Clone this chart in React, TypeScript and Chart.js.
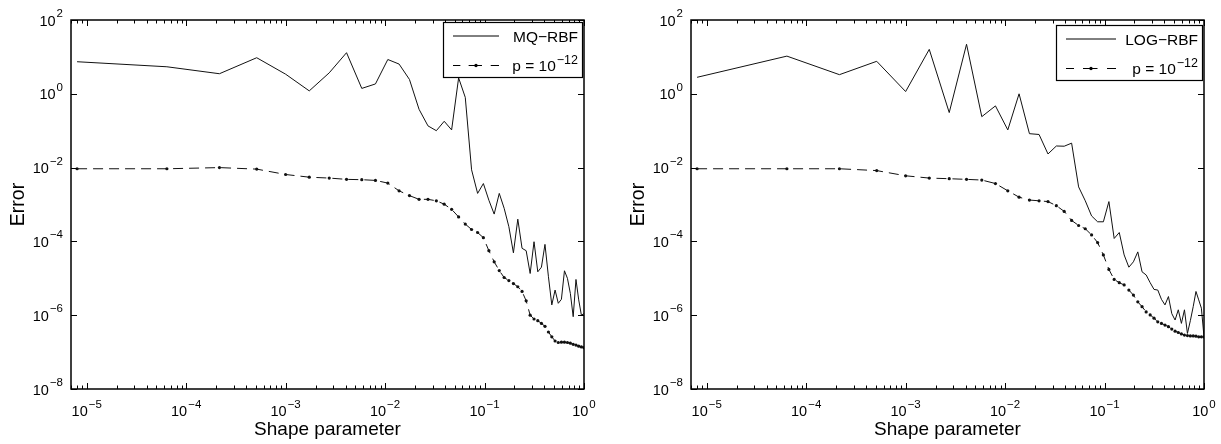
import React, { useEffect, useRef } from "react";
import { Chart, registerables } from "chart.js";

Chart.register(...registerables);

const FONT = '"Liberation Sans", Arial, Helvetica, sans-serif';

// Shape parameter values (shared x positions of both panels)
const shapeParameters = [
  8e-6, 6.4e-5, 2.16e-4, 5.12e-4, 1e-3, 1.728e-3, 2.744e-3, 4.096e-3, 5.832e-3, 8e-3,
  0.010648, 0.013824, 0.017576, 0.021952, 0.027, 0.032768, 0.039304, 0.046656, 0.054872, 0.064,
  0.074088, 0.085184, 0.097336, 0.110592, 0.125, 0.140608, 0.157464, 0.175616, 0.195112, 0.216,
  0.238328, 0.262144, 0.287496, 0.314432, 0.343, 0.373248, 0.405224, 0.438976, 0.474552, 0.512,
  0.551368, 0.592704, 0.636056, 0.681472, 0.729, 0.778688, 0.830584, 0.884736, 0.941192, 1.0,
];

// Left panel: MQ-RBF
const mqErrors = [
  7.4, 5.4, 3.5, 9.5, 3.4, 1.2, 3.7, 13, 1.4, 1.85,
  8.5, 6.4, 2.45, 0.38, 0.135, 0.1, 0.18, 0.105, 2.7, 0.8,
  8.7e-3, 2.0e-3, 3.7e-3, 1.3e-3, 5.5e-4, 2.0e-3, 7.9e-4, 2.5e-4, 4.9e-5, 4.0e-4,
  6.5e-5, 5.6e-5, 1.35e-5, 9.8e-5, 1.5e-5, 2.0e-5, 8.3e-5, 1.1e-5, 1.9e-6, 4.8e-6,
  2.1e-6, 2.7e-6, 1.6e-5, 1.0e-5, 3.9e-6, 9.1e-7, 9.3e-6, 2.6e-6, 1.0e-6, 1.1e-6,
];
const mqP12Errors = [
  9.3e-3, 9.3e-3, 1.0e-2, 9.1e-3, 6.5e-3, 5.5e-3, 5.2e-3, 4.8e-3, 4.7e-3, 4.5e-3,
  3.8e-3, 2.35e-3, 1.74e-3, 1.38e-3, 1.38e-3, 1.26e-3, 1.02e-3, 7.4e-4, 4.6e-4, 2.95e-4,
  2.1e-4, 1.74e-4, 1.26e-4, 5.6e-5, 2.8e-5, 1.62e-5, 1.05e-5, 8.7e-6, 7.2e-6, 5.9e-6,
  4.4e-6, 2.45e-6, 1.0e-6, 7.9e-7, 7.1e-7, 6.0e-7, 5.0e-7, 3.5e-7, 2.6e-7, 2.0e-7,
  1.82e-7, 1.86e-7, 1.86e-7, 1.82e-7, 1.74e-7, 1.62e-7, 1.55e-7, 1.45e-7, 1.38e-7, 1.32e-7,
];

// Right panel: LOG-RBF
const logErrors = [
  2.8, 10.5, 3.3, 7.6, 1.15, 16, 0.31, 22, 0.24, 0.47,
  0.105, 1.0, 0.083, 0.079, 0.0234, 0.0385, 0.038, 0.046, 3.0e-3, 1.26e-3,
  4.9e-4, 3.4e-4, 3.4e-4, 1.2e-3, 1.2e-4, 1.74e-4, 4.3e-5, 2.0e-5, 2.8e-5, 5.2e-5,
  1.5e-5, 1.23e-5, 7.6e-6, 5.0e-6, 4.8e-6, 2.7e-6, 1.9e-6, 3.2e-6, 1.1e-6, 7.4e-7,
  1.4e-6, 6.0e-7, 1.4e-6, 3.2e-7, 7.1e-7, 1.7e-6, 4.4e-6, 2.6e-6, 1.55e-6, 2.6e-7,
];
const logP12Errors = [
  9.3e-3, 9.3e-3, 9.3e-3, 8.3e-3, 6.0e-3, 5.2e-3, 5.0e-3, 4.8e-3, 4.6e-3, 3.7e-3,
  2.35e-3, 1.58e-3, 1.32e-3, 1.26e-3, 1.2e-3, 9.3e-4, 6.5e-4, 3.7e-4, 2.7e-4, 2.2e-4,
  1.5e-4, 9.3e-5, 4.3e-5, 1.74e-5, 9.3e-6, 7.6e-6, 6.6e-6, 4.8e-6, 3.5e-6, 2.3e-6,
  1.7e-6, 1.23e-6, 1.02e-6, 8.3e-7, 6.6e-7, 6.0e-7, 5.4e-7, 4.9e-7, 4.2e-7, 3.7e-7,
  3.4e-7, 3.1e-7, 2.9e-7, 2.8e-7, 2.75e-7, 2.75e-7, 2.7e-7, 2.6e-7, 2.6e-7, 2.57e-7,
];

const xTickValues = [1e-5, 1e-4, 1e-3, 1e-2, 1e-1, 1];
const xTickLabels = ["10^\u22125", "10^\u22124", "10^\u22123", "10^\u22122", "10^\u22121", "10^0"];
const yTickValues = [1e-8, 1e-6, 1e-4, 1e-2, 1, 1e2];
const yTickLabels = ["10^\u22128", "10^\u22126", "10^\u22124", "10^\u22122", "10^0", "10^2"];

const xAxisTitle = "Shape parameter";
const yAxisTitle = "Error";

function drawPower(
  ctx: CanvasRenderingContext2D,
  text: string,
  x: number,
  y: number,
  align: "center" | "right",
  baseSize: number,
  expSize: number,
  rise: number
) {
  const [base, exp] = text.split("^");
  ctx.font = `${baseSize}px ${FONT}`;
  const wb = ctx.measureText(base).width;
  ctx.font = `${expSize}px ${FONT}`;
  const we = exp ? ctx.measureText(exp).width + 1 : 0;
  const total = wb + we;
  const x0 = align === "center" ? x - total / 2 : x - total;
  ctx.textAlign = "left";
  ctx.textBaseline = "alphabetic";
  ctx.font = `${baseSize}px ${FONT}`;
  ctx.fillText(base, x0, y);
  if (exp) {
    ctx.font = `${expSize}px ${FONT}`;
    ctx.fillText(exp, x0 + wb + 1, y - rise);
  }
}

const matlabAxesPlugin = {
  id: "matlabAxes",
  afterDraw(chart: any, _args: any, opts: any) {
    const { ctx, chartArea: a, scales } = chart;
    const xs = scales.x;
    const ys = scales.y;
    ctx.save();
    ctx.strokeStyle = "#000";
    ctx.fillStyle = "#000";
    ctx.lineWidth = 1;
    ctx.setLineDash([]);
    ctx.beginPath();
    for (let d = -6; d <= 0; d++) {
      for (let m = 1; m <= 9; m++) {
        const v = m * Math.pow(10, d);
        if (v < xs.min || v > xs.max) continue;
        const px = Math.round(xs.getPixelForValue(v)) + 0.5;
        const len = m === 1 ? 6 : 3.5;
        ctx.moveTo(px, a.bottom);
        ctx.lineTo(px, a.bottom - len);
        ctx.moveTo(px, a.top);
        ctx.lineTo(px, a.top + len);
      }
    }
    for (const v of yTickValues) {
      const py = Math.round(ys.getPixelForValue(v)) + 0.5;
      ctx.moveTo(a.left, py);
      ctx.lineTo(a.left + 6, py);
      ctx.moveTo(a.right, py);
      ctx.lineTo(a.right - 6, py);
    }
    ctx.stroke();

    ctx.lineWidth = 1.5;
    ctx.strokeRect(a.left, a.top, a.right - a.left, a.bottom - a.top);

    // tick labels
    xTickValues.forEach((v, i) => {
      const px = xs.getPixelForValue(v);
      drawPower(ctx, xTickLabels[i], px, a.bottom + 27, "center", 14.5, 11.5, 8);
    });
    yTickValues.forEach((v, i) => {
      const py = ys.getPixelForValue(v);
      drawPower(ctx, yTickLabels[i], a.left - 8, py + 5.5, "right", 14.5, 11.5, 8.5);
    });

    // legend
    const ds = chart.data.datasets;
    const bw = opts.legendWidth;
    const bh = 55;
    const bx = a.right - 2 - bw;
    const by = a.top + opts.legendTop;
    ctx.fillStyle = "#fff";
    ctx.fillRect(bx, by, bw, bh);
    ctx.lineWidth = 1.2;
    ctx.strokeStyle = "#000";
    ctx.strokeRect(bx + 0.5, by + 0.5, bw, bh);
    const rows = [by + 14, by + 43.5];
    const sx = bx + 10;
    const L = opts.sampleLength;
    ctx.lineWidth = 1;
    ctx.beginPath();
    ctx.moveTo(sx, rows[0]);
    ctx.lineTo(sx + L, rows[0]);
    ctx.stroke();
    ctx.beginPath();
    const segs = [
      [0, 0.16],
      [0.34, 0.63],
      [0.82, 1],
    ];
    for (const [s, e] of segs) {
      ctx.moveTo(sx + s * L, rows[1]);
      ctx.lineTo(sx + e * L, rows[1]);
    }
    ctx.stroke();
    ctx.fillStyle = "#000";
    ctx.beginPath();
    ctx.arc(sx + 0.5 * L, rows[1], 1.7, 0, Math.PI * 2);
    ctx.fill();
    const tx = bx + bw - 4;
    drawPower(ctx, ds[0].label, tx, rows[0] + 5.5, "right", 15.5, 12, 7);
    drawPower(ctx, ds[1].label, tx, rows[1] + 5.5, "right", 15.5, 12.5, 7);
    ctx.restore();
  },
};

type PanelProps = {
  left: number;
  width: number;
  errors: number[];
  p12Errors: number[];
  solidLabel: string;
  padLeft: number;
  padRight: number;
  legendTop: number;
  legendWidth: number;
  sampleLength: number;
};

function ErrorPanel(props: PanelProps) {
  const ref = useRef<HTMLCanvasElement | null>(null);
  useEffect(() => {
    if (!ref.current) return;
    const chart = new Chart(ref.current, {
      type: "line",
      data: {
        datasets: [
          {
            label: props.solidLabel,
            data: shapeParameters.map((x, i) => ({ x, y: props.errors[i] })),
            borderColor: "#111",
            borderWidth: 1,
            pointRadius: 0,
            tension: 0,
          },
          {
            label: "p = 10^\u221212",
            data: shapeParameters.map((x, i) => ({ x, y: props.p12Errors[i] })),
            borderColor: "#111",
            borderWidth: 1,
            borderDash: [10, 6],
            pointRadius: 1.6,
            pointBorderWidth: 0,
            pointBackgroundColor: "#111",
            tension: 0,
          },
        ],
      },
      options: {
        animation: false,
        responsive: false,
        maintainAspectRatio: false,
        events: [],
        layout: { padding: { left: props.padLeft, right: props.padRight, top: 20, bottom: 0 } },
        plugins: {
          legend: { display: false },
          tooltip: { enabled: false },
          matlabAxes: { legendTop: props.legendTop, legendWidth: props.legendWidth, sampleLength: props.sampleLength },
        } as any,
        scales: {
          x: {
            type: "logarithmic",
            min: 6.95e-6,
            max: 1,
            grid: { display: false },
            border: { display: false },
            ticks: { display: false },
            title: {
              display: true,
              text: xAxisTitle,
              color: "#000",
              font: { family: FONT, size: 19 },
              padding: { top: 0, bottom: 3 },
            },
            afterBuildTicks: (s: any) => {
              s.ticks = xTickValues.map((v) => ({ value: v }));
            },
            afterFit: (s: any) => {
              s.height = 55;
            },
          },
          y: {
            type: "logarithmic",
            min: 1e-8,
            max: 1e2,
            grid: { display: false },
            border: { display: false },
            ticks: { display: false },
            title: {
              display: true,
              text: yAxisTitle,
              color: "#000",
              font: { family: FONT, size: 19.5 },
              padding: { top: 7, bottom: 0 },
            },
            afterBuildTicks: (s: any) => {
              s.ticks = yTickValues.map((v) => ({ value: v }));
            },
            afterFit: (s: any) => {
              s.width = 71;
            },
          },
        } as any,
      },
      plugins: [matlabAxesPlugin as any],
    } as any);
    return () => chart.destroy();
  }, []);
  return (
    <canvas
      ref={ref}
      width={props.width}
      height={444}
      style={{ position: "absolute", left: props.left, top: 0, width: props.width, height: 444, display: "block" }}
    />
  );
}

export default function App() {
  return (
    <div style={{ position: "fixed", left: 0, top: 0, width: 1221, height: 444, background: "#fff", overflow: "hidden" }}>
      <ErrorPanel
        left={0}
        width={610}
        errors={mqErrors}
        p12Errors={mqP12Errors}
        solidLabel={"MQ\u2212RBF"}
        padLeft={0}
        padRight={26}
        legendTop={2}
        legendWidth={139}
        sampleLength={46}
      />
      <ErrorPanel
        left={610}
        width={611}
        errors={logErrors}
        p12Errors={logP12Errors}
        solidLabel={"LOG\u2212RBF"}
        padLeft={10}
        padRight={17}
        legendTop={5}
        legendWidth={146}
        sampleLength={50}
      />
    </div>
  );
}
